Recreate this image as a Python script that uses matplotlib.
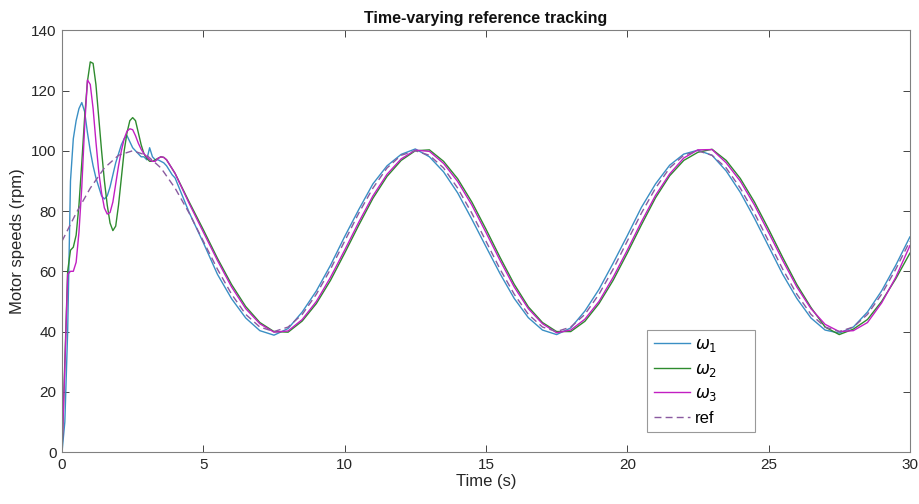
import numpy as np
import matplotlib
matplotlib.use("Agg")
import matplotlib.pyplot as plt

plt.rcParams['font.family'] = ['Liberation Sans Narrow', 'Liberation Sans', 'DejaVu Sans']

# ---- data ----
# reference signal sampled every 0.5 s from 0 to 30 s
t_ref = np.arange(0, 30.01, 0.5)
ref_period = [70.0, 79.3, 87.6, 94.3, 98.5, 100.0, 98.5, 94.3, 87.6, 79.3,
              70.0, 60.7, 52.4, 45.7, 41.5, 40.0, 41.5, 45.7, 52.4, 60.7]
ref = ref_period * 3 + [70.0]

# motor speeds: 0.1 s samples for the start-up transient, then 0.5 s samples
t_w = np.concatenate([np.arange(0, 4.01, 0.1), np.arange(4.5, 30.01, 0.5)])

w1 = [0, 10, 40, 90, 104, 110, 114, 116, 113, 106,
      100, 95, 91, 88, 85, 84, 85, 88, 92, 96,
      99, 102, 104, 105, 103, 101, 100, 99, 98, 98,
      97, 101, 98, 97, 97, 96.5, 96, 95, 93.5, 92,
      91,
      79.5, 69.5, 59.0, 50.9, 44.5, 40.3, 38.8, 41.0, 46.5, 53.5,
      62.0, 71.5, 80.5, 89.0, 95.0, 98.8, 100.6, 98.0, 93.0, 86.0,
      77.3, 68.2, 59.2, 51.0, 44.6, 40.5, 39.0, 41.2, 46.8, 54.0,
      62.7, 71.8, 81.2, 89.0, 95.2, 98.9, 100.2, 98.5, 93.3, 86.2,
      77.6, 68.3, 59.0, 51.0, 44.5, 40.5, 39.5, 41.5, 46.5, 53.5,
      62.0, 71.4]

w2 = [0, 30, 60, 67, 68, 72, 82, 96, 111, 123,
      129.5, 129, 122, 111, 100, 90, 82, 76, 73.5, 75,
      82, 91, 100, 106, 110, 111, 110, 106, 102, 99,
      97.5, 96.5, 96.5, 97, 97.5, 98, 97.8, 97, 95.5, 94,
      92.5,
      83.0, 73.8, 64.3, 55.6, 48.3, 43.0, 40.0, 39.8, 43.5, 49.3,
      57.0, 66.0, 75.3, 84.2, 91.5, 96.8, 100.0, 100.3, 96.5, 90.7,
      83.0, 74.0, 64.6, 55.7, 48.2, 43.0, 40.0, 40.0, 43.4, 49.3,
      57.0, 66.0, 75.4, 84.4, 91.7, 96.8, 99.5, 100.5, 96.8, 90.8,
      83.0, 74.0, 64.6, 55.6, 48.0, 41.5, 39.0, 40.8, 44.0, 50.0,
      57.5, 66.0]

w3 = [0, 28, 59, 60, 60, 63, 73, 88, 108, 123.5,
      122, 114, 103, 93, 86, 81, 79, 79.5, 83, 89,
      95, 100, 104, 106.5, 107.3, 107, 105, 102.5, 100.5, 99,
      98, 97, 96.5, 96.5, 97.5, 98, 97.8, 97, 95.5, 94,
      92.5,
      82.5, 73.0, 63.6, 54.8, 47.6, 42.6, 39.8, 40.2, 44.0, 50.0,
      58.0, 67.0, 76.3, 85.0, 92.2, 97.3, 100.2, 99.8, 95.8, 89.8,
      82.0, 72.9, 63.6, 54.8, 47.6, 42.6, 39.6, 40.5, 44.1, 50.0,
      58.0, 67.0, 76.4, 85.2, 92.3, 97.6, 100.3, 100.4, 96.0, 89.9,
      82.0, 72.9, 63.6, 54.8, 47.6, 42.4, 40.0, 40.3, 43.0, 49.5,
      58.0, 68.5]

labels = [r'$\omega_1$', r'$\omega_2$', r'$\omega_3$', 'ref']
colors = ['#3a8fc4', '#2e8b2e', '#c21fc2', '#8a5aa0']
x_ticks = [0, 5, 10, 15, 20, 25, 30]
y_ticks = [0, 20, 40, 60, 80, 100, 120, 140]

# ---- plot ----
fig = plt.figure(figsize=(9.2, 5.04), dpi=100)
ax = fig.add_axes([0.0674, 0.103, 0.9216, 0.837])

ax.plot(t_w, w1, color=colors[0], lw=1.0, label=labels[0])
ax.plot(t_w, w2, color=colors[1], lw=1.0, label=labels[1])
ax.plot(t_w, w3, color=colors[2], lw=1.0, label=labels[2])
ax.plot(t_ref, ref, color=colors[3], lw=1.0, ls=(0, (5, 3)), label=labels[3])

ax.set_xlim(0, 30)
ax.set_ylim(0, 140)
ax.set_xticks(x_ticks)
ax.set_yticks(y_ticks)
ax.tick_params(direction='in', top=True, right=True, length=5, width=0.6,
               labelsize=11, colors='#262626', pad=4)
for s in ax.spines.values():
    s.set_color('#808080')
    s.set_linewidth(0.8)

ax.set_title('Time-varying reference tracking', fontsize=11.5, fontweight='bold',
             color='#111111', pad=5)
ax.set_xlabel('Time (s)', fontsize=12, color='#262626', labelpad=2)
ax.set_ylabel('Motor speeds (rpm)', fontsize=12, color='#262626', labelpad=4)

leg = ax.legend(loc='lower left', bbox_to_anchor=(0.69, 0.047, 0.127, 0.25),
                mode='expand', fontsize=12, frameon=True, fancybox=False,
                handlelength=2.2, handletextpad=0.3, borderpad=0.4,
                labelspacing=0.45, borderaxespad=0)
leg.get_frame().set_edgecolor('#808080')
leg.get_frame().set_linewidth(0.8)

fig.savefig('out.png', dpi=100)
